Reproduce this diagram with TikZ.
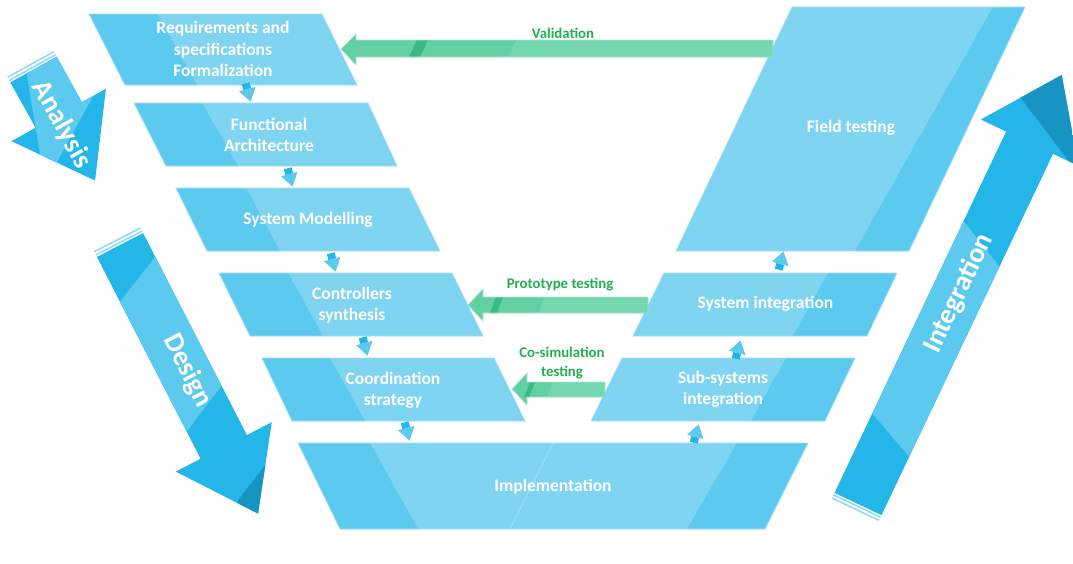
\documentclass[tikz,border=0pt]{standalone}
\usepackage{fontspec}
\setmainfont{Carlito}
\definecolor{boxdark}{HTML}{5CC9EF}
\definecolor{boxlight}{HTML}{7ED4F1}
\definecolor{boxedge}{HTML}{A4DFF5}
\definecolor{arrmid}{HTML}{24B6E8}
\definecolor{arrdeep}{HTML}{1794C1}
\definecolor{stripec}{HTML}{8ED8F3}
\definecolor{greenA}{HTML}{63CFA2}
\definecolor{greenB}{HTML}{74D7B0}
\definecolor{greenS}{HTML}{3BBA85}
\definecolor{greenedge}{HTML}{A6E6CE}
\definecolor{greentext}{HTML}{22B04F}
% left-slanted box: y1,y2,xTL,xTR,xBL,xBR,boundary top,boundary bottom
\newcommand\leftpar[8]{%
  \fill[boxlight] (#3,#1) -- (#4,#1) -- (#6,#2) -- (#5,#2) -- cycle;
  \fill[boxdark] (#3,#1) -- (#7,#1) -- (#8,#2) -- (#5,#2) -- cycle;
  \draw[boxline] (#3,#1) -- (#4,#1) -- (#6,#2) -- (#5,#2) -- cycle;}
\newcommand\rightpar[8]{%
  \fill[boxlight] (#3,#1) -- (#4,#1) -- (#6,#2) -- (#5,#2) -- cycle;
  \fill[boxdark] (#7,#1) -- (#4,#1) -- (#6,#2) -- (#8,#2) -- cycle;
  \draw[boxline] (#3,#1) -- (#4,#1) -- (#6,#2) -- (#5,#2) -- cycle;}
\tikzset{
  boxline/.style={draw=boxedge,line width=0.7pt},
  gline/.style={draw=greenedge,line width=0.7pt},
  boxtxt/.style={text=white,font=\fontsize{17.5}{21.5}\selectfont\bfseries,align=center,inner sep=0pt},
  bigtxt/.style={text=white,font=\fontsize{28}{30}\selectfont\bfseries,inner sep=0pt},
  gtxt/.style={text=greentext,font=\fontsize{14.8}{19}\selectfont\bfseries,align=center,inner sep=0pt},
  smallarr/.pic={
    \fill[arrmid] (-4,-9) -- (4,-9) -- (4,-3) -- (-4,-3) -- cycle;
    \fill[boxdark] (-8.5,-3) -- (8.5,-3) -- (0,10) -- cycle;
  }
}
\begin{document}
\begin{tikzpicture}[x=1pt,y=-1pt]
\useasboundingbox (0,0) rectangle (1073,563);

% ---------- left column boxes
\leftpar{14}{85}{89}{322}{125}{357}{157}{197}
\leftpar{103}{166}{134}{368}{166}{397}{202}{238}
\leftpar{188}{251}{176}{409}{207}{440}{246}{280}
\leftpar{273}{336}{219}{452}{250}{483}{288}{323}
\leftpar{358}{421}{262}{494}{292}{525}{330}{365}
% ---------- right column boxes
\rightpar{7}{251}{792}{1025}{676}{909}{993}{855}
\rightpar{273}{336}{664}{897}{633}{867}{828}{793}
\rightpar{358}{421}{622}{855}{591}{825}{786}{751}
% ---------- implementation
\fill[boxlight] (298,443) -- (808,443) -- (765,529) -- (340,529) -- cycle;
\fill[boxdark] (298,443) -- (370,443) -- (418,529) -- (340,529) -- cycle;
\fill[boxdark] (737,443) -- (808,443) -- (765,529) -- (687,529) -- cycle;
\draw[boxline] (298,443) -- (808,443) -- (765,529) -- (340,529) -- cycle;
\draw[boxline] (553,443) -- (510,529);

% ---------- box labels
\node[boxtxt] (req) at (223,49) {Requirements and\\specifications\\Formalization};
\node[boxtxt] (fun) at (269,135) {Functional\\Architecture};
\node[boxtxt] (sysm) at (308,220) {System Modelling};
\node[boxtxt] (ctrl) at (352,305) {Controllers\\synthesis};
\node[boxtxt] (coord) at (393,390.5) {Coordination\\strategy};
\node[boxtxt] (impl) at (553,487) {Implementation};
\node[boxtxt] (field) at (851,128) {Field testing};
\node[boxtxt] (sysi) at (765.5,304) {System integration};
\node[boxtxt] (subs) at (723,389.5) {Sub-systems\\integration};

% ---------- small connector arrows
\pic[rotate=15] at (248,92) {smallarr};
\pic[rotate=15] at (290,177) {smallarr};
\pic[rotate=15] at (333,262) {smallarr};
\pic[rotate=15] at (365,346) {smallarr};
\pic[rotate=15] at (407,431) {smallarr};
\pic[rotate=165] at (781,261) {smallarr};
\pic[rotate=165] at (738,350) {smallarr};
\pic[rotate=165] at (696,434) {smallarr};

% ---------- green arrows
% Validation
\fill[greenA] (341,49) -- (356,34) -- (356,40) -- (773,40) -- (773,57) -- (356,57) -- (356,65) -- cycle;
\fill[greenB] (516,40) -- (773,40) -- (773,57) -- (508,57) -- cycle;
\fill[greenS] (417,40) -- (428,40) -- (420,57) -- (409,57) -- cycle;
\draw[gline] (341,49) -- (356,34) -- (356,40) -- (773,40) -- (773,57) -- (356,57) -- (356,65) -- cycle;
\node[gtxt] (val) at (563,33) {Validation};
% Prototype testing
\fill[greenA] (468,305) -- (483,289) -- (483,297) -- (648,297) -- (648,313) -- (483,313) -- (483,321) -- cycle;
\fill[greenB] (544,297) -- (648,297) -- (648,313) -- (539,313) -- cycle;
\fill[greenS] (496,297) -- (503,297) -- (497,313) -- (490,313) -- cycle;
\draw[gline] (468,305) -- (483,289) -- (483,297) -- (648,297) -- (648,313) -- (483,313) -- (483,321) -- cycle;
\node[gtxt] (proto) at (560,285) {Prototype testing};
% Co-simulation testing
\fill[greenA] (512,389) -- (527,373) -- (527,382) -- (605,382) -- (605,397) -- (527,397) -- (527,405) -- cycle;
\fill[greenB] (552,382) -- (605,382) -- (605,397) -- (547,397) -- cycle;
\fill[greenS] (530,382) -- (535,382) -- (529,397) -- (524,397) -- cycle;
\draw[gline] (512,389) -- (527,373) -- (527,382) -- (605,382) -- (605,397) -- (527,397) -- (527,405) -- cycle;
\node[gtxt] (cosim) at (562,363.5) {Co-simulation\\testing};

% ---------- big arrow: Analysis
\begin{scope}
  \clip[shift={(33.5,69.5)},rotate=-61] (0,-26.5) -- (52,-26.5) -- (52,-54) -- (127,0) -- (52,54) -- (52,26.5) -- (0,26.5) -- cycle;
  \fill[arrmid] (0,0) rectangle (300,300);
  \fill[boxdark] (21,40) -- (124,40) -- (45,183.7) -- cycle;
\end{scope}
\fill[stripec,shift={(33.5,69.5)},rotate=-61] (-1.5,-26.5) rectangle (-3,26.5) (-5,-26.5) rectangle (-6.5,26.5);
\node[bigtxt,rotate=-61] (analysis) at (61.5,124.5) {Analysis};

% ---------- big arrow: Design
\begin{scope}
  \clip[shift={(120,245)},rotate=-62.8] (0,-26) -- (227,-26) -- (227,-54) -- (302,0) -- (227,54) -- (227,26) -- (0,26) -- cycle;
  \fill[arrmid] (0,150) rectangle (350,563);
  \fill[boxdark] (85,347) -- (190,212) -- (258,338) -- (155,473) -- cycle;
  \fill[arrdeep] (239,499) -- (285,439) -- (320,460) -- (300,560) -- (220,540) -- cycle;
\end{scope}
\fill[stripec,shift={(120,245)},rotate=-62.8] (-1.5,-26) rectangle (-3,26) (-5,-26) rectangle (-6.5,26);
\node[bigtxt,rotate=-62.8] (design) at (187.5,371) {Design};

% ---------- big arrow: Integration
\begin{scope}
  \clip[shift={(858,504)},rotate=64.6] (0,-26) -- (400,-26) -- (400,-54) -- (475,0) -- (400,54) -- (400,26) -- (0,26) -- cycle;
  \fill[arrmid] (780,0) rectangle (1110,563);
  \fill[boxdark] (815,345.5) -- (913,157) -- (1052,333) -- (967,525.5) -- cycle;
  \fill[arrdeep] (1010,84) -- (1070,30) -- (1110,60) -- (1110,215) -- cycle;
\end{scope}
\fill[stripec,shift={(858,504)},rotate=64.6] (-1.5,-26) rectangle (-3,26) (-5,-26) rectangle (-6.5,26);
\node[bigtxt,rotate=64.6] (integ) at (959,293.5) {Integration};
\end{tikzpicture}
\end{document}
